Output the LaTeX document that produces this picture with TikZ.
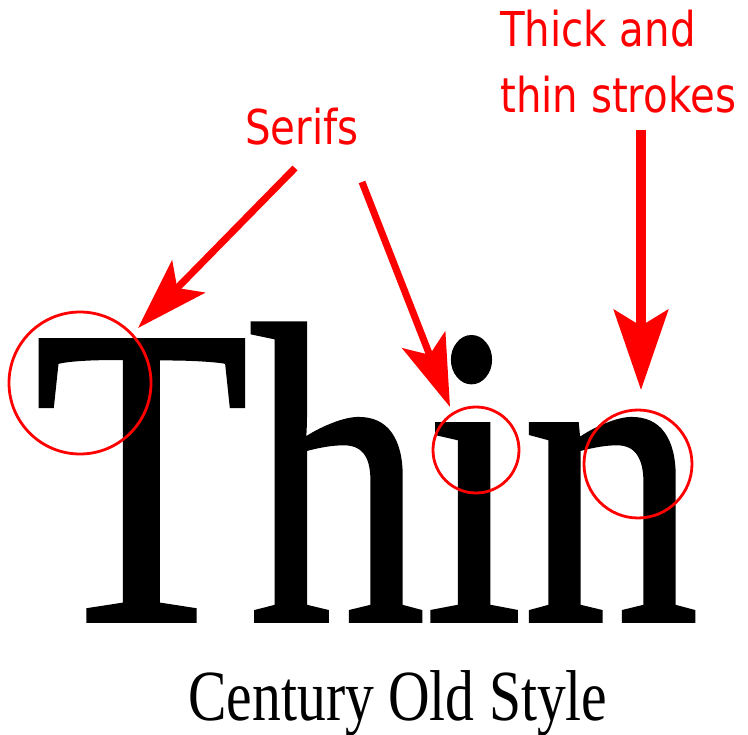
\documentclass[tikz,border=0pt]{standalone}
\usepackage{fontspec}
\setmainfont{Liberation Serif}
\newfontfamily\labelfont[FakeStretch=0.84]{DejaVu Sans}
\newfontfamily\bigserif[FakeStretch=0.82,FakeBold=0.9]{Liberation Serif}
\newfontfamily\capserif[FakeStretch=0.80]{Liberation Serif}
\usetikzlibrary{arrows.meta}
\definecolor{annot}{RGB}{255,0,0}
\begin{document}
\begin{tikzpicture}[x=1pt,y=-1pt,
  lbl/.style={font=\labelfont\fontsize{48}{58}\selectfont, text=annot, inner sep=0pt, anchor=base west},
  ring/.style={draw=annot, line width=2.8pt, circle, minimum size=#1, inner sep=0pt},
  pointer/.style={draw=annot, line width=7pt, -{Stealth[length=72pt,width=46pt,inset=16pt]}},
  bigpointer/.style={draw=annot, line width=10pt, -{Stealth[length=80pt,width=54pt,inset=16pt]}}
]
\useasboundingbox (0,0) rectangle (748,735);
% labels
\node[lbl] (serifs) at (245,145) {Serifs};
\node[lbl] (thick1) at (500,47) {Thick and};
\node[lbl] (thick2) at (500,113) {thin strokes};
% the word and caption
\node[font=\bigserif\fontsize{429}{429}\selectfont, inner sep=0pt, text depth=0pt, anchor=base west] (word) at (34,621) {Thin};
\node[font=\capserif\fontsize{72}{80}\selectfont, inner sep=0pt, anchor=base] (caption) at (398,720) {Century Old Style};
% circles
\node[ring=142pt] (cT) at (80,383) {};
\node[ring=86pt] (ci) at (476,450) {};
\node[ring=108pt] (cn) at (638,464) {};
% arrows
\coordinate (s1) at (295,168);
\coordinate (t1) at (138,328);
\coordinate (s2) at (362,182);
\coordinate (t2) at (450,407);
\coordinate (s3) at (641,130);
\coordinate (t3) at (641,390);
\draw[pointer] (s1) -- (t1);
\draw[pointer] (s2) -- (t2);
\draw[bigpointer] (s3) -- (t3);
\end{tikzpicture}
\end{document}
